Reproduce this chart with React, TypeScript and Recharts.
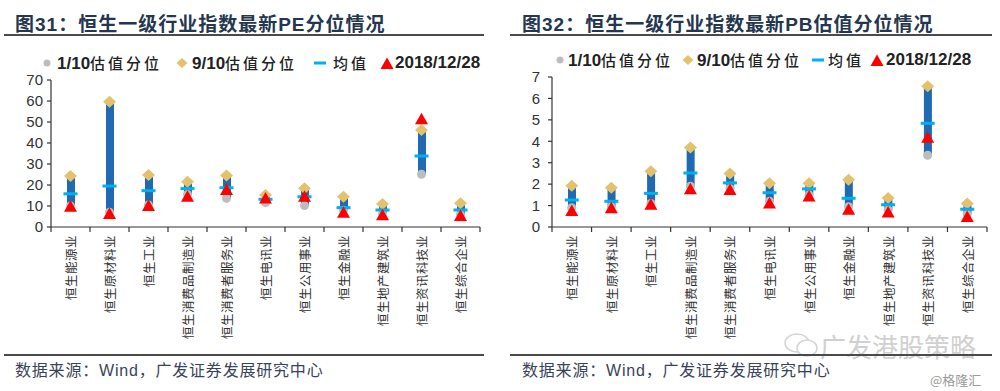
import React from 'react';
import { ComposedChart, Bar, Scatter, XAxis, YAxis } from 'recharts';

// Industry categories (shared by both charts)
const industries = [
  '恒生能源业', '恒生原材料业', '恒生工业', '恒生消费品制造业', '恒生消费者服务业',
  '恒生电讯业', '恒生公用事业', '恒生金融业', '恒生地产建筑业', '恒生资讯科技业', '恒生综合企业',
];

// PE: 1/10 percentile, 9/10 percentile, mean, 2018/12/28
const peLow = [10, 7, 10.5, 15.5, 13.6, 11.6, 10.2, 8, 6.5, 25.1, 6];
const peHigh = [24.3, 59.7, 24.8, 21.6, 24.5, 15.2, 18.4, 14.4, 11, 46.2, 11.3];
const peMean = [15.8, 19.5, 17.3, 18.3, 18.7, 13.2, 14.4, 9.2, 8.1, 33.8, 8.1];
const peNow = [9.7, 6.2, 10, 14.4, 17.6, 13.6, 14.4, 6.8, 5.6, 51.3, 5.2];
const peTicks = [0, 10, 20, 30, 40, 50, 60, 70];

// PB
const pbLow = [0.9, 0.95, 1.1, 1.9, 1.8, 1.2, 1.5, 0.95, 0.8, 3.35, 0.6];
const pbHigh = [1.93, 1.83, 2.6, 3.71, 2.5, 2.04, 2.04, 2.2, 1.35, 6.57, 1.1];
const pbMean = [1.26, 1.2, 1.57, 2.52, 2.06, 1.6, 1.78, 1.34, 1.04, 4.84, 0.83];
const pbNow = [0.75, 0.88, 1.04, 1.76, 1.73, 1.1, 1.42, 0.8, 0.68, 4.17, 0.47];
const pbTicks = [0, 1, 2, 3, 4, 5, 6, 7];

const buildRows = (low: number[], high: number[], mean: number[], now: number[]) =>
  industries.map((name, i) => ({ name, range: [low[i], high[i]], low: low[i], high: high[i], mean: mean[i], now: now[i] }));

const peRows = buildRows(peLow, peHigh, peMean, peNow);
const pbRows = buildRows(pbLow, pbHigh, pbMean, pbNow);

const BAR = '#1F6AB0';
const GOLD = '#E2C26C';
const GREY = '#BDBDBD';
const CYAN = '#00B0F0';
const RED = '#FF0000';
const INK = '#333333';
const NAVY = '#243650';
const SANS = "'Liberation Sans', Arial, sans-serif";
const CJK = "'Noto Sans CJK SC', sans-serif";

const Dot = (p: any) => <circle cx={p.cx} cy={p.cy} r={4.5} fill={GREY} />;
const Diamond = (p: any) => (
  <polygon points={`${p.cx},${p.cy - 6} ${p.cx + 6.5},${p.cy} ${p.cx},${p.cy + 6} ${p.cx - 6.5},${p.cy}`} fill={GOLD} />
);
const Dash = (p: any) => <rect x={p.cx - 7} y={p.cy - 1.5} width={14} height={3} fill={CYAN} />;
const Tri = (p: any) => (
  <polygon points={`${p.cx},${p.cy - 6.5} ${p.cx + 6.5},${p.cy + 5} ${p.cx - 6.5},${p.cy + 5}`} fill={RED} />
);

const makeTick = (band: number, count: number) => (props: any) => {
  const { x, y, payload, index } = props;
  return (
    <g>
      <line x1={x - band / 2} x2={x - band / 2} y1={y} y2={y + 5} stroke={INK} strokeWidth={1.2} />
      {index === count - 1 && (
        <line x1={x + band / 2} x2={x + band / 2} y1={y} y2={y + 5} stroke={INK} strokeWidth={1.2} />
      )}
      <text
        x={x}
        y={y + 8}
        transform={`rotate(-90, ${x}, ${y + 8})`}
        textAnchor="end"
        dominantBaseline="central"
        fontSize={12.5}
        fill={INK}
        fontFamily={CJK}
        letterSpacing={0.5}
      >
        {payload.value}
      </text>
    </g>
  );
};

const RangeChart = ({ rows, ticks, max, yWidth, top, right, tickMargin }: any) => {
  const width = 500;
  const height = 391;
  const xHeight = 164;
  const band = (width - yWidth - right) / rows.length;
  return (
    <ComposedChart width={width} height={height} data={rows} margin={{ top, right, bottom: 0, left: 0 }}>
      <XAxis
        dataKey="name"
        height={xHeight}
        interval={0}
        tickSize={0}
        tickMargin={0}
        tickLine={false}
        axisLine={{ stroke: INK, strokeWidth: 1.2 }}
        tick={makeTick(band, rows.length)}
      />
      <YAxis
        width={yWidth}
        domain={[0, max]}
        ticks={ticks}
        interval={0}
        tickSize={4}
        tickMargin={tickMargin}
        axisLine={{ stroke: INK, strokeWidth: 1.2 }}
        tickLine={{ stroke: INK, strokeWidth: 1.2 }}
        tick={{ fontSize: 15, fill: INK, fontFamily: SANS }}
      />
      <Bar dataKey="range" barSize={8} fill={BAR} isAnimationActive={false} />
      <Scatter dataKey="low" shape={Dot} isAnimationActive={false} />
      <Scatter dataKey="high" shape={Diamond} isAnimationActive={false} />
      <Scatter dataKey="mean" shape={Dash} isAnimationActive={false} />
      <Scatter dataKey="now" shape={Tri} isAnimationActive={false} />
    </ComposedChart>
  );
};

const legendItems = [
  { num: '1/10', cjk: '估值分位', icon: 'dot' },
  { num: '9/10', cjk: '估值分位', icon: 'diamond' },
  { num: '', cjk: '均值', icon: 'dash' },
  { num: '2018/12/28', cjk: '', icon: 'tri' },
];

const LegendIcon = ({ kind }: { kind: string }) => (
  <svg width={14} height={14}>
    {kind === 'dot' && <circle cx={7} cy={7} r={3.5} fill={GREY} />}
    {kind === 'diamond' && <polygon points="7,2 12.5,7 7,12 1.5,7" fill={GOLD} />}
    {kind === 'dash' && <rect x={1} y={5.5} width={12} height={3} fill={CYAN} />}
    {kind === 'tri' && <polygon points="7,1.5 13.5,13 0.5,13" fill={RED} />}
  </svg>
);

// icon centre x and text start x for each legend entry
const Legend = ({ cy, icons, texts }: { cy: number; icons: number[]; texts: number[] }) => (
  <>
    {legendItems.map((it, i) => (
      <React.Fragment key={i}>
        <div style={{ position: 'absolute', left: icons[i] - 7, top: cy - 7, lineHeight: 0 }}>
          <LegendIcon kind={it.icon} />
        </div>
        <div style={{ position: 'absolute', left: texts[i], top: cy - 11, height: 22, lineHeight: '22px', whiteSpace: 'nowrap', color: '#222' }}>
          {it.num && <span style={{ fontFamily: SANS, fontWeight: 700, fontSize: 17 }}>{it.num}</span>}
          {it.cjk && (
            <span style={{ fontFamily: CJK, fontWeight: 500, fontSize: 15, letterSpacing: 3 }}>{it.cjk}</span>
          )}
        </div>
      </React.Fragment>
    ))}
  </>
);

const titleStyle: React.CSSProperties = {
  position: 'absolute',
  top: 9,
  fontFamily: CJK,
  fontWeight: 700,
  fontSize: 19,
  color: NAVY,
  whiteSpace: 'nowrap',
  letterSpacing: 1,
};

const sourceStyle: React.CSSProperties = {
  position: 'absolute',
  top: 357,
  fontFamily: CJK,
  fontSize: 16,
  color: '#3A4458',
  whiteSpace: 'nowrap',
  letterSpacing: 0.8,
};

const Rule = ({ left, width, top }: { left: number; width: number; top: number }) => (
  <div style={{ position: 'absolute', left, top, width, height: 1.5, background: '#4A4A4A' }} />
);

export default function App() {
  return (
    <div style={{ position: 'absolute', left: 0, top: 0, width: 1000, height: 391, background: '#fff', overflow: 'hidden' }}>
      <div style={{ ...titleStyle, left: 15 }}>
        图<span style={{ fontFamily: SANS }}>31</span>：恒生一级行业指数最新
        <span style={{ fontFamily: SANS }}>PE</span>分位情况
      </div>
      <div style={{ ...titleStyle, left: 522 }}>
        图<span style={{ fontFamily: SANS }}>32</span>：恒生一级行业指数最新
        <span style={{ fontFamily: SANS }}>PB</span>估值分位情况
      </div>
      <Rule left={4} width={480} top={34} />
      <Rule left={510} width={482} top={34} />

      <Legend cy={63} icons={[47, 182, 320, 387]} texts={[57, 192, 333, 395]} />
      <Legend cy={60} icons={[560, 688, 818, 877]} texts={[568, 697, 828, 886]} />

      <div style={{ position: 'absolute', left: 0, top: 0 }}>
        <RangeChart rows={peRows} ticks={peTicks} max={70} yWidth={51} top={80} right={20} tickMargin={4} />
      </div>
      <div style={{ position: 'absolute', left: 500, top: 0 }}>
        <RangeChart rows={pbRows} ticks={pbTicks} max={7} yWidth={52} top={77} right={13} tickMargin={8} />
      </div>

      {/* watermark */}
      <svg style={{ position: 'absolute', left: 782, top: 331 }} width={40} height={28}>
        <ellipse cx={15} cy={12} rx={12} ry={9} fill="none" stroke="#D4D4D4" strokeWidth={1.5} />
        <ellipse cx={25} cy={17} rx={10} ry={8} fill="#fff" stroke="#D4D4D4" strokeWidth={1.5} />
      </svg>
      <div style={{ position: 'absolute', left: 820, top: 327, fontFamily: CJK, fontSize: 26, color: '#D0D0D0', whiteSpace: 'nowrap' }}>
        广发港股策略
      </div>
      <Rule left={4} width={480} top={354} />
      <Rule left={510} width={482} top={354} />
      <div style={{ ...sourceStyle, left: 15 }}>
        数据来源：<span style={{ fontFamily: SANS }}>Wind</span>，广发证券发展研究中心
      </div>
      <div style={{ ...sourceStyle, left: 522 }}>
        数据来源：<span style={{ fontFamily: SANS }}>Wind</span>，广发证券发展研究中心
      </div>
      <div style={{ position: 'absolute', left: 930, top: 370, fontFamily: CJK, fontSize: 13, color: '#9A9A9A', whiteSpace: 'nowrap' }}>
        @格隆汇
      </div>
    </div>
  );
}
